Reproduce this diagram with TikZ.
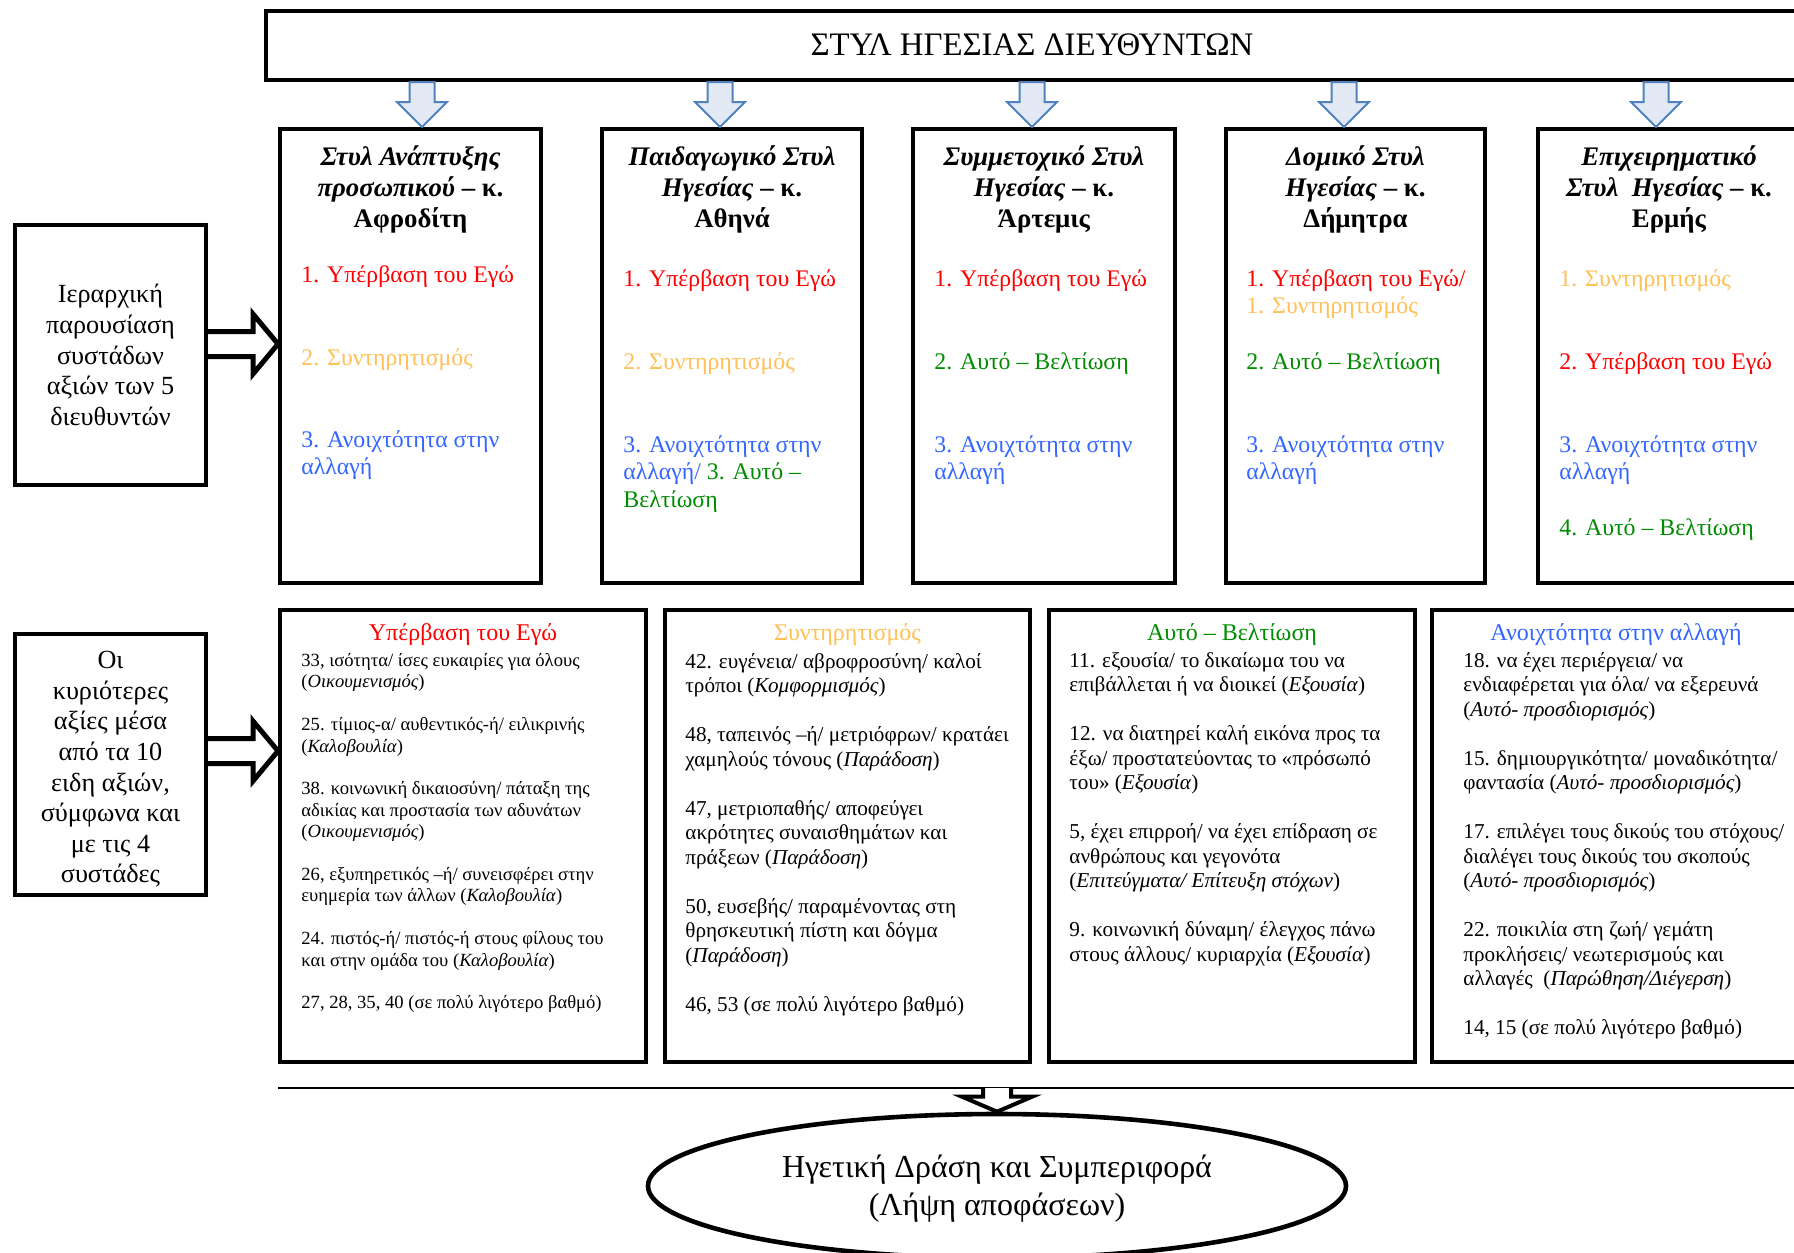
\documentclass[tikz,border=0pt]{standalone}
\usepackage{fontspec}
\setmainfont{Liberation Serif}
\usetikzlibrary{calc,shapes.geometric}

\definecolor{egored}{RGB}{255,0,0}
\definecolor{consorange}{RGB}{255,192,85}
\definecolor{selfgreen}{RGB}{0,140,0}
\definecolor{openblue}{RGB}{51,102,255}
\definecolor{arrowblue}{RGB}{79,129,189}
\definecolor{arrowfill}{RGB}{226,233,245}

\tikzset{
  frame/.style={rectangle, draw=black, line width=2pt, fill=white, inner sep=0pt, outer sep=1pt},
  bluearrow/.style={draw=arrowblue, line width=1pt, fill=arrowfill, line join=miter},
  blackarrow/.style={draw=black, line width=2.5pt, fill=white, line join=miter},
  itm/.style={anchor=north west, inner sep=0pt, align=left, font=\fontsize{11.9}{13.75}\selectfont},
  ttl/.style={anchor=north, inner sep=0pt, align=center, font=\fontsize{13.4}{15.5}\selectfont},
  hdr/.style={anchor=north, inner sep=0pt, font=\fontsize{12}{13.75}\selectfont},
  bodysmall/.style={anchor=north west, inner sep=0pt, align=left, font=\fontsize{9.3}{10.7}\selectfont},
  bodynormal/.style={anchor=north west, inner sep=0pt, align=left, font=\fontsize{10.6}{12.25}\selectfont},
  sidetext/.style={align=center, inner sep=0pt, font=\fontsize{13.1}{15.3}\selectfont},
}

\begin{document}
\begin{tikzpicture}[x=0.5pt,y=-0.5pt]
\useasboundingbox (0,0) rectangle (1794,1253);
\clip (0,0) rectangle (1794,1253);

% banner
\node[frame, minimum width=766pt, minimum height=34.5pt, font=\fontsize{16.4}{19}\selectfont,
  text depth=1pt]
  (banner) at (1032,45.5) {ΣΤΥΛ ΗΓΕΣΙΑΣ ΔΙΕΥΘΥΝΤΩΝ};

% upper column boxes (one per director)
\node[frame, minimum width=130.5pt, minimum height=227pt] (u1) at (410.5,356) {};
\node[frame, minimum width=130pt, minimum height=227pt] (u2) at (732,356) {};
\node[frame, minimum width=131pt, minimum height=227pt] (u3) at (1044,356) {};
\node[frame, minimum width=129.5pt, minimum height=227pt] (u4) at (1355.5,356) {};
\node[frame, minimum width=131pt, minimum height=227pt] (u5) at (1669,356) {};

% side boxes
\node[frame, minimum width=95.5pt, minimum height=130pt] (l1) at (110.5,355) {};
\node[sidetext] (l1text) at (110.5,355)
  {Ιεραρχική\\παρουσίαση\\συστάδων\\αξιών των 5\\διευθυντών};
\node[frame, minimum width=95.5pt, minimum height=130.5pt] (l2) at (110.5,764.5) {};
\node[sidetext] (l2text) at (110.5,769.5)
  {Οι\\κυριότερες\\αξίες μέσα\\από τα 10\\ειδη αξιών,\\σύμφωνα και\\με τις 4\\συστάδες};

% lower value-cluster boxes
\node[frame, minimum width=183pt, minimum height=226pt] (d1) at (463,836) {};
\node[frame, minimum width=182.5pt, minimum height=226pt] (d2) at (847.5,836) {};
\node[frame, minimum width=183pt, minimum height=226pt] (d3) at (1232,836) {};
\node[frame, minimum width=184pt, minimum height=226pt] (d4) at (1616,836) {};

% outcome ellipse
\node[ellipse, draw=black, line width=2.3pt, fill=white, inner sep=0pt, outer sep=1.15pt,
  minimum width=349pt, minimum height=72pt] (el) at (997,1186) {};
\node[align=center, inner sep=0pt, font=\fontsize{16}{19}\selectfont] (eltext) at (997,1189)
  {Ηγετική Δράση και Συμπεριφορά\\(Λήψη αποφάσεων)};

% separator line
\coordinate (sepA) at (278,1088);
\coordinate (sepB) at (1800,1088);
\draw[line width=1.3pt] (sepA) -- (sepB);

% blue arrows from the banner into each column
\foreach \ax/\bx in {422/u1,720/u2,1032/u3,1344/u4,1656/u5}{
  \coordinate (ax) at (\ax,0);
  \coordinate (p) at (banner.south -| ax);
  \coordinate (q) at (\bx.north -| ax);
  \draw[bluearrow] ($(p)+(-12.5,0)$) -- ($(p)+(12.5,0)$) -- ($(q)+(12.5,-25)$)
    -- ($(q)+(25,-25)$) -- (q) -- ($(q)+(-25,-25)$) -- ($(q)+(-12.5,-25)$) -- cycle;
}

% hollow arrows from the side boxes
\foreach \ay/\sx/\tx in {344/l1/u1,751/l2/d1}{
  \coordinate (ay) at (0,\ay);
  \coordinate (p) at (\sx.east |- ay);
  \coordinate (q) at (\tx.west |- ay);
  \draw[blackarrow] ($(p)+(0,-12.5)$) -- ($(q)+(-25,-12.5)$) -- ($(q)+(-25,-30)$) -- (q)
    -- ($(q)+(-25,30)$) -- ($(q)+(-25,12.5)$) -- ($(p)+(0,12.5)$);
}

% arrow down to the ellipse
\coordinate (p) at (sepA -| el.north);
\draw[line width=2pt, fill=white, line join=miter]
  ($(p)+(-14,0)$) -- ($(el.north)+(-14,-15)$) -- ($(el.north)+(-35,-15)$) -- (el.north)
  -- ($(el.north)+(35,-15)$) -- ($(el.north)+(14,-15)$) -- ($(p)+(14,0)$);

% column titles
\node[ttl] (t1) at (410.5,145) {\textbf{\textit{Στυλ Ανάπτυξης}}\\\textbf{\textit{προσωπικού} – κ.}\\\textbf{Αφροδίτη}};
\node[ttl] (t2) at (732,145) {\textbf{\textit{Παιδαγωγικό Στυλ}}\\\textbf{\textit{Ηγεσίας} – κ.}\\\textbf{Αθηνά}};
\node[ttl] (t3) at (1044,145) {\textbf{\textit{Συμμετοχικό Στυλ}}\\\textbf{\textit{Ηγεσίας} – κ.}\\\textbf{Άρτεμις}};
\node[ttl] (t4) at (1355.5,145) {\textbf{\textit{Δομικό Στυλ}}\\\textbf{\textit{Ηγεσίας} – κ.}\\\textbf{Δήμητρα}};
\node[ttl] (t5) at (1669,145) {\textbf{\textit{Επιχειρηματικό}}\\\textbf{\textit{Στυλ\ \ Ηγεσίας} – κ.}\\\textbf{Ερμής}};

% ranked clusters per director
\node[itm, text=egored] (i11) at (301,265) {1. Υπέρβαση του Εγώ};
\node[itm, text=consorange] (i12) at (301,348) {2. Συντηρητισμός};
\node[itm, text=openblue] (i13) at (301,430) {3. Ανοιχτότητα στην\\αλλαγή};

\node[itm, text=egored] (i21) at (623,269) {1. Υπέρβαση του Εγώ};
\node[itm, text=consorange] (i22) at (623,352) {2. Συντηρητισμός};
\node[itm, text=openblue] (i23) at (623,435) {3. Ανοιχτότητα στην\\αλλαγή/ \textcolor{selfgreen}{3. Αυτό –}\\\textcolor{selfgreen}{Βελτίωση}};

\node[itm, text=egored] (i31) at (934,269) {1. Υπέρβαση του Εγώ};
\node[itm, text=selfgreen] (i32) at (934,352) {2. Αυτό – Βελτίωση};
\node[itm, text=openblue] (i33) at (934,435) {3. Ανοιχτότητα στην\\αλλαγή};

\node[itm, text=egored] (i41) at (1246,269) {1. Υπέρβαση του Εγώ/\\\textcolor{consorange}{1. Συντηρητισμός}};
\node[itm, text=selfgreen] (i42) at (1246,352) {2. Αυτό – Βελτίωση};
\node[itm, text=openblue] (i43) at (1246,435) {3. Ανοιχτότητα στην\\αλλαγή};

\node[itm, text=consorange] (i51) at (1559,269) {1. Συντηρητισμός};
\node[itm, text=egored] (i52) at (1559,352) {2. Υπέρβαση του Εγώ};
\node[itm, text=openblue] (i53) at (1559,435) {3. Ανοιχτότητα στην\\αλλαγή};
\node[itm, text=selfgreen] (i54) at (1559,518) {4. Αυτό – Βελτίωση};

% lower box headings
\node[hdr, text=egored] (h1) at (463,623) {Υπέρβαση του Εγώ};
\node[hdr, text=consorange] (h2) at (847.5,623) {Συντηρητισμός};
\node[hdr, text=selfgreen] (h3) at (1232,623) {Αυτό – Βελτίωση};
\node[hdr, text=openblue] (h4) at (1616,623) {Ανοιχτότητα στην αλλαγή};

% lower box values
\node[bodysmall] (v1) at (301,653) {33, ισότητα/ ίσες ευκαιρίες για όλους\\
(\textit{Οικουμενισμός})\\[10.7pt]
25. τίμιος-α/ αυθεντικός-ή/ ειλικρινής\\
(\textit{Καλοβουλία})\\[10.7pt]
38. κοινωνική δικαιοσύνη/ πάταξη της\\
αδικίας και προστασία των αδυνάτων\\
(\textit{Οικουμενισμός})\\[10.7pt]
26, εξυπηρετικός –ή/ συνεισφέρει στην\\
ευημερία των άλλων (\textit{Καλοβουλία})\\[10.7pt]
24. πιστός-ή/ πιστός-ή στους φίλους του\\
και στην ομάδα του (\textit{Καλοβουλία})\\[10.7pt]
27, 28, 35, 40 (σε πολύ λιγότερο βαθμό)};

\node[bodynormal] (v2) at (685,653) {42. ευγένεια/ αβροφροσύνη/ καλοί\\
τρόποι (\textit{Κομφορμισμός})\\[12.25pt]
48, ταπεινός –ή/ μετριόφρων/ κρατάει\\
χαμηλούς τόνους (\textit{Παράδοση})\\[12.25pt]
47, μετριοπαθής/ αποφεύγει\\
ακρότητες συναισθημάτων και\\
πράξεων (\textit{Παράδοση})\\[12.25pt]
50, ευσεβής/ παραμένοντας στη\\
θρησκευτική πίστη και δόγμα\\
(\textit{Παράδοση})\\[12.25pt]
46, 53 (σε πολύ λιγότερο βαθμό)};

\node[bodynormal] (v3) at (1069,652) {11. εξουσία/ το δικαίωμα του να\\
επιβάλλεται ή να διοικεί (\textit{Εξουσία})\\[12.25pt]
12. να διατηρεί καλή εικόνα προς τα\\
έξω/ προστατεύοντας το «πρόσωπό\\
του» (\textit{Εξουσία})\\[12.25pt]
5, έχει επιρροή/ να έχει επίδραση σε\\
ανθρώπους και γεγονότα\\
(\textit{Επιτεύγματα/ Επίτευξη στόχων})\\[12.25pt]
9. κοινωνική δύναμη/ έλεγχος πάνω\\
στους άλλους/ κυριαρχία (\textit{Εξουσία})};

\node[bodynormal] (v4) at (1463,652) {18. να έχει περιέργεια/ να\\
ενδιαφέρεται για όλα/ να εξερευνά\\
(\textit{Αυτό- προσδιορισμός})\\[12.25pt]
15. δημιουργικότητα/ μοναδικότητα/\\
φαντασία (\textit{Αυτό- προσδιορισμός})\\[12.25pt]
17. επιλέγει τους δικούς του στόχους/\\
διαλέγει τους δικούς του σκοπούς\\
(\textit{Αυτό- προσδιορισμός})\\[12.25pt]
22. ποικιλία στη ζωή/ γεμάτη\\
προκλήσεις/ νεωτερισμούς και\\
αλλαγές\ \ (\textit{Παρώθηση/Διέγερση})\\[12.25pt]
14, 15 (σε πολύ λιγότερο βαθμό)};

\end{tikzpicture}
\end{document}
